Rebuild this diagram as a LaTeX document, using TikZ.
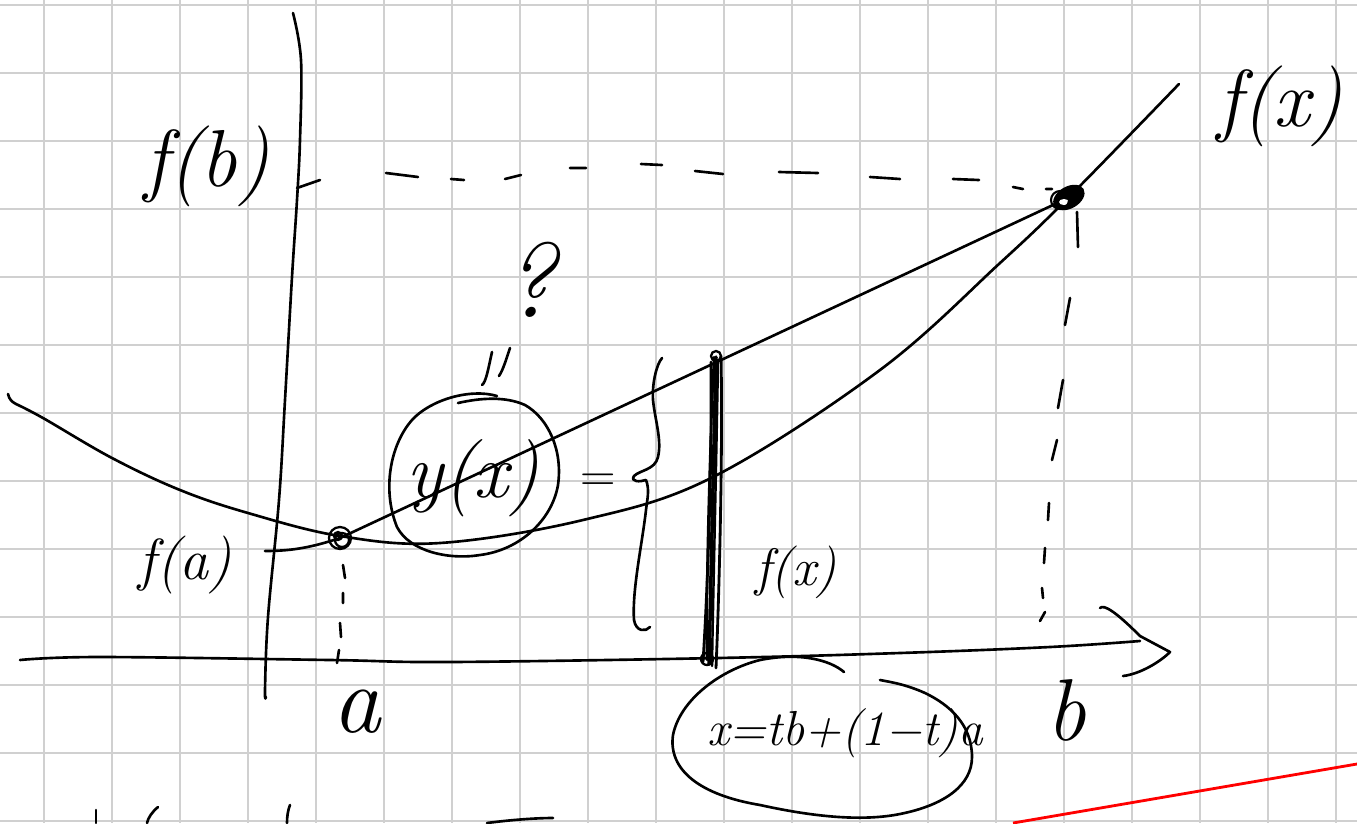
\documentclass[tikz,border=0pt]{standalone}
\definecolor{gridgray}{HTML}{D0D0D0}
\definecolor{inkred}{HTML}{FF0000}
\begin{document}
\begin{tikzpicture}[x=0.02cm,y=-0.02cm,
  ink/.style={line width=1.5pt, line cap=round, line join=round, draw=black},
  gridline/.style={line width=1.1pt, draw=gridgray},
  lbl/.style={inner sep=0pt, outer sep=0pt, text=black},
]
\useasboundingbox (0,0) rectangle (1357,823);
\fill[white] (0,0) rectangle (1357,823);
% grid
\foreach \gx in {44,112,...,1340} \draw[gridline] (\gx,0) -- (\gx,823);
\foreach \gy in {5,73,...,825} \draw[gridline] (0,\gy) -- (1357,\gy);

% key points
\coordinate (A) at (340,538);
\coordinate (B) at (1068,198);
\coordinate (P) at (716,357);
\coordinate (Q) at (709,664);

% y-axis
\draw[ink] plot[smooth, tension=0.6] coordinates {(293,13) (301,60) (300,140) (297,200) (292,277) (285,400) (279,500) (268,617) (265,690) (266,697)};
% x-axis with hand-drawn arrow
\draw[ink] plot[smooth, tension=0.6] coordinates {(20,660) (100,657) (330,660) (450,662) (718,658) (900,653) (1050,647) (1140,641)};
\draw[ink] (1100,608) .. controls (1104,604) and (1116,612) .. (1140,636) -- (1170,652) .. controls (1160,662) and (1140,674) .. (1123,676);

% parabola f
\draw[ink] (8,394) .. controls (9,399) and (12,402) .. (16,404);
\draw[ink] plot[smooth, tension=0.6] coordinates {(16,404) (43,418) (112,458) (180,490) (248,513) (340,536) (440,543) (583,520) (713,477) (880,370) (1000,263) (1068,198) (1179,84)};

% secant
\draw[ink] (A) -- (B);

% f(a) tick and f(b) tick
\coordinate (faT) at (265,551);
\coordinate (fbT) at (297,188);
\draw[ink] (faT) .. controls (290,551) and (310,548) .. (A);
\draw[ink] (fbT) -- (320,180);

% horizontal dashed line f(b)
\draw[ink] (386,173)--(418,177) (451,179)--(464,180) (505,179)--(521,175)
  (570,168)--(586,168) (641,164)--(662,165) (695,171)--(723,174)
  (779,172)--(818,173) (870,177)--(900,179) (953,179)--(979,180)
  (1013,187)--(1023,189) (1046,189)--(1052,189);

% vertical dashed under A
\draw[ink] (343,565)--(345,578) (343,593)--(343,603) (340,623)--(341,637) (339,650)--(337,663);

% vertical dashed under B
\draw[ink] (1077,212)--(1078,247) (1070,298)--(1065,325) (1063,380)--(1058,408)
  (1057,440)--(1052,460) (1049,503)--(1048,520) (1045,548)--(1044,563)
  (1042,588)--(1043,598) (1045,612)--(1040,621);

% point A (scribbled)
\draw[ink, line width=1.3pt] (A) circle[radius=11] (342,540) circle[radius=7] (338,536) circle[radius=4];
% point B (scribbled blob)
\fill[rotate around={30:(B)}] (1069,198) ellipse[x radius=17, y radius=11];
\fill[white] (1064,202) ellipse[x radius=5, y radius=3];
\draw[ink, line width=1.2pt] (1060,200) circle[radius=9];

% the bar f(x)
\draw[ink, line width=2pt] (P) -- (Q);
\draw[ink, line width=1.6pt] (721,356) .. controls (723,450) and (719,600) .. (716,668);
\draw[ink, line width=1.6pt] (711,362) .. controls (712,480) and (707,600) .. (703,662);
\draw[ink, line width=1.4pt] (718,360) .. controls (716,480) and (713,600) .. (712,666);
\draw[ink, line width=1.4pt] (714,357) .. controls (709,470) and (706,590) .. (707,660);
\draw[ink, line width=1.3pt] (716,356) circle[radius=5];
\draw[ink, line width=1.3pt] (707,659) circle[radius=6];

% brace
\draw[ink] (662,358) .. controls (656,365) and (652,385) .. (653,400)
  .. controls (655,420) and (662,440) .. (658,457)
  .. controls (655,470) and (640,470) .. (634,476)
  .. controls (630,482) and (640,482) .. (646,480)
  .. controls (650,490) and (647,500) .. (646,510)
  .. controls (642,545) and (632,590) .. (634,620)
  .. controls (636,632) and (646,632) .. (650,627);

% circle around y(x)
\draw[ink] (497,396) .. controls (470,388) and (430,400) .. (412,420)
  .. controls (390,445) and (382,490) .. (397,527)
  .. controls (410,552) and (450,560) .. (480,555)
  .. controls (520,550) and (552,520) .. (558,485)
  .. controls (563,450) and (548,418) .. (525,405)
  .. controls (505,396) and (480,398) .. (458,403);

% ditto marks
\draw[ink] (482,385) .. controls (486,382) and (488,370) .. (492,352);
\draw[ink] (499,376) .. controls (503,370) and (506,360) .. (510,348);

% ellipse around x = tb+(1-t)a
\draw[ink] (844,672) .. controls (830,660) and (800,652) .. (760,660)
  .. controls (720,670) and (680,700) .. (673,735)
  .. controls (668,770) and (700,795) .. (760,805)
  .. controls (810,816) and (860,822) .. (900,814)
  .. controls (945,805) and (972,785) .. (972,757)
  .. controls (972,725) and (950,705) .. (925,693)
  .. controls (905,684) and (890,682) .. (880,680);

% partial strokes at bottom edge
\draw[ink] (96,810) -- (96,823);
\draw[ink] (158,807) .. controls (152,812) and (148,818) .. (147,823);
\draw[ink] (290,805) .. controls (288,810) and (287,816) .. (287,823);
\draw[ink] (487,823) .. controls (510,820) and (535,818) .. (553,818);

% red line
\coordinate (r1) at (1013,823);
\coordinate (r2) at (1357,764);
\draw[line width=1.6pt, draw=inkred] (r1) -- (r2);

% labels
\node[lbl, font=\fontsize{46}{52}\selectfont\itshape] (lfb) at (207,166) {f(b)};
\node[lbl, font=\fontsize{46}{52}\selectfont\itshape] (lfxr) at (1280,106) {f(x)};
\node[lbl, font=\fontsize{33}{38}\selectfont\itshape] (lfa) at (185,565) {f(a)};
\node[lbl, font=\fontsize{30}{34}\selectfont\itshape] (lfx) at (796,572) {f(x)};
\node[lbl, font=\fontsize{55}{60}\selectfont\itshape] (la) at (357,712) {a};
\node[lbl, font=\fontsize{50}{55}\selectfont\itshape] (lb) at (1066,710) {b};
\node[lbl, font=\fontsize{44}{50}\selectfont\itshape] (lyx) at (473,478) {y(x)};
\node[lbl, font=\fontsize{28}{32}\selectfont] (leq) at (598,483) {=};
\node[lbl, font=\fontsize{60}{66}\selectfont\itshape] (lq) at (530,280) {?};
\node[lbl, font=\fontsize{28}{32}\selectfont\itshape] (lxeq) at (845,733) {x=tb+(1−t)a};
\end{tikzpicture}
\end{document}
